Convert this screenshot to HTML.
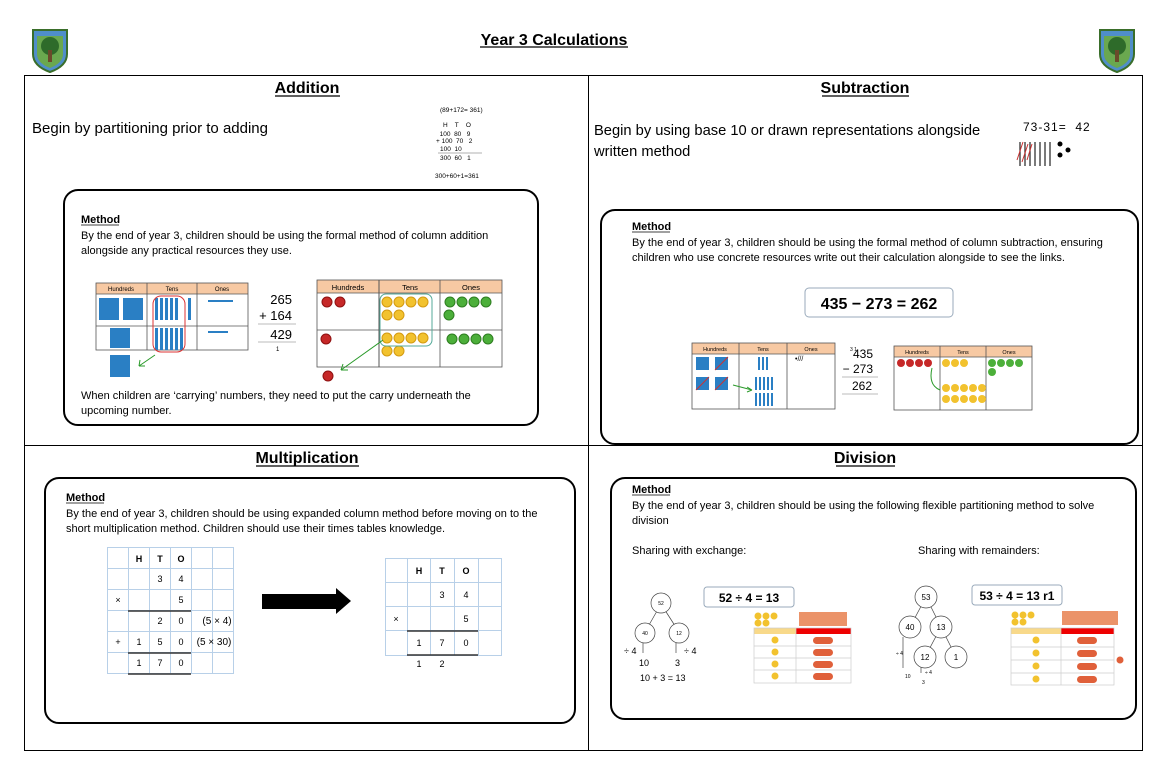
<!DOCTYPE html>
<html><head><meta charset="utf-8"><style>
body{margin:0;background:#fff}
svg{display:block}
text{font-family:"Liberation Sans",sans-serif;fill:#000;white-space:pre}
</style></head><body>
<svg width="1167" height="779" viewBox="0 0 1167 779" xmlns="http://www.w3.org/2000/svg">
<defs>
<g id="logo">
<path d="M0,0 H34 V24 Q34,36 17,42 Q0,36 0,24 Z" fill="#4f8ec9" stroke="#3a6e2a" stroke-width="2"/>
<path d="M4,6 H30 V24 Q30,33 17,38 Q4,33 4,24 Z" fill="#6aa84f"/>
<circle cx="17" cy="16" r="9" fill="#2e6b2a"/>
<rect x="15" y="20" width="4" height="12" fill="#6b4a2b"/>
</g>
<g id="coinY"><circle r="5" fill="#f2c22e" stroke="#d49a10" stroke-width="1"/></g>
<g id="coinG"><circle r="5" fill="#4caf3a" stroke="#2e7d20" stroke-width="1"/></g>
<g id="coinR"><circle r="5" fill="#c62828" stroke="#8e1010" stroke-width="1"/></g>
</defs>

<!-- header -->
<use href="#logo" x="33" y="30"/>
<use href="#logo" x="1100" y="30"/>
<text x="554" y="45" font-size="16" font-weight="bold" text-anchor="middle">Year 3 Calculations</text>
<line x1="480" y1="47" x2="628" y2="47" stroke="#000" stroke-width="1.3"/>

<!-- grid -->
<rect x="24.5" y="75.5" width="1118" height="675" fill="none" stroke="#000" stroke-width="1"/>
<line x1="588.5" y1="75" x2="588.5" y2="750" stroke="#000"/>
<line x1="24" y1="445.5" x2="1142" y2="445.5" stroke="#000"/>

<!-- headings -->
<g font-size="16" font-weight="bold" text-anchor="middle">
<text x="307" y="93">Addition</text>
<text x="865" y="93">Subtraction</text>
<text x="307" y="463">Multiplication</text>
<text x="865" y="463">Division</text>
</g>
<g stroke="#000" stroke-width="1.3">
<line x1="275" y1="96" x2="340" y2="96"/>
<line x1="822" y1="96" x2="909" y2="96"/>
<line x1="256" y1="466" x2="359" y2="466"/>
<line x1="836" y1="466" x2="895" y2="466"/>
</g>

<!-- ADDITION -->
<text x="32" y="133" font-size="15">Begin by partitioning prior to adding</text>
<g font-size="6.5" fill="#666">
<text x="440" y="112" fill="#666">(89+172= 361)</text>
<text x="443" y="127" fill="#666">H    T    O</text>
<text x="436" y="136" fill="#666">  100  80   9</text>
<text x="436" y="143" fill="#666">+ 100  70   2</text>
<text x="440" y="151" fill="#666">100  10</text>
<text x="440" y="160" fill="#666">300  60   1</text>
<text x="435" y="178" fill="#666">300+60+1=361</text>
</g>
<line x1="438" y1="153" x2="482" y2="153" stroke="#666" stroke-width="0.6"/>

<rect x="64" y="190" width="474" height="235" rx="14" fill="none" stroke="#000" stroke-width="2"/>
<text x="81" y="223" font-size="11" font-weight="bold">Method</text>
<line x1="81" y1="225" x2="119" y2="225" stroke="#000" stroke-width="0.8"/>
<text x="81" y="239" font-size="11">By the end of year 3, children should be using the formal method of column addition</text>
<text x="81" y="254" font-size="11">alongside any practical resources they use.</text>

<!-- left table -->
<rect x="96" y="283" width="152" height="11" fill="#f7c9a3"/>
<rect x="96" y="283" width="152" height="67" fill="none" stroke="#555" stroke-width="0.8"/>
<line x1="147" y1="283" x2="147" y2="350" stroke="#555" stroke-width="0.8"/>
<line x1="197" y1="283" x2="197" y2="350" stroke="#555" stroke-width="0.8"/>
<line x1="96" y1="294" x2="248" y2="294" stroke="#555" stroke-width="0.8"/>
<line x1="96" y1="326" x2="248" y2="326" stroke="#555" stroke-width="0.8"/>
<g font-size="6" text-anchor="middle"><text x="121" y="291">Hundreds</text><text x="172" y="291">Tens</text><text x="222" y="291">Ones</text></g>
<g fill="#2a7fc4">
<rect x="99" y="298" width="20" height="22"/><rect x="123" y="298" width="20" height="22"/>
<rect x="110" y="328" width="20" height="20"/><rect x="110" y="355" width="20" height="22"/>
<rect x="155" y="298" width="3" height="22"/><rect x="160" y="298" width="3" height="22"/><rect x="165" y="298" width="3" height="22"/><rect x="170" y="298" width="3" height="22"/><rect x="175" y="298" width="3" height="22"/><rect x="188" y="298" width="3" height="22"/>
<rect x="155" y="328" width="3" height="22"/><rect x="160" y="328" width="3" height="22"/><rect x="165" y="328" width="3" height="22"/><rect x="170" y="328" width="3" height="22"/><rect x="175" y="328" width="3" height="22"/><rect x="180" y="328" width="3" height="22"/>
<rect x="208" y="300" width="25" height="2"/><rect x="208" y="331" width="20" height="2"/>
</g>
<rect x="153" y="296" width="32" height="56" rx="8" fill="none" stroke="#d33" stroke-width="1"/>
<path d="M155,355 L139,366 M139,366 l6,0 M139,366 l1,-6" stroke="#2a9a2a" fill="none"/>
<g font-size="13" fill="#333" text-anchor="end"><text x="292" y="304">265</text><text x="292" y="320">+ 164</text><text x="292" y="339">429</text></g>
<text x="276" y="351" font-size="6" fill="#333">1</text>
<line x1="258" y1="324" x2="296" y2="324" stroke="#bbb"/><line x1="258" y1="342" x2="296" y2="342" stroke="#bbb"/>

<!-- right table -->
<rect x="317" y="280" width="185" height="13" fill="#f7c9a3"/>
<rect x="317" y="280" width="185" height="87" fill="none" stroke="#555" stroke-width="0.8"/>
<line x1="379" y1="280" x2="379" y2="367" stroke="#555" stroke-width="1"/>
<line x1="440" y1="280" x2="440" y2="367" stroke="#555" stroke-width="0.8"/>
<line x1="317" y1="293" x2="502" y2="293" stroke="#555" stroke-width="0.8"/>
<line x1="317" y1="330" x2="502" y2="330" stroke="#555" stroke-width="0.8"/>
<g font-size="7.5" text-anchor="middle"><text x="348" y="290">Hundreds</text><text x="410" y="290">Tens</text><text x="471" y="290">Ones</text></g>
<use href="#coinR" x="327" y="302"/><use href="#coinR" x="340" y="302"/><use href="#coinR" x="326" y="339"/><use href="#coinR" x="328" y="376"/>
<use href="#coinY" x="387" y="302"/><use href="#coinY" x="399" y="302"/><use href="#coinY" x="411" y="302"/><use href="#coinY" x="423" y="302"/>
<use href="#coinY" x="387" y="315"/><use href="#coinY" x="399" y="315"/>
<use href="#coinY" x="387" y="338"/><use href="#coinY" x="399" y="338"/><use href="#coinY" x="411" y="338"/><use href="#coinY" x="423" y="338"/>
<use href="#coinY" x="387" y="351"/><use href="#coinY" x="399" y="351"/>
<rect x="380" y="294" width="52" height="52" rx="6" fill="none" stroke="#5a9" stroke-width="1"/>
<use href="#coinG" x="450" y="302"/><use href="#coinG" x="462" y="302"/><use href="#coinG" x="474" y="302"/><use href="#coinG" x="486" y="302"/><use href="#coinG" x="449" y="315"/>
<use href="#coinG" x="452" y="339"/><use href="#coinG" x="464" y="339"/><use href="#coinG" x="476" y="339"/><use href="#coinG" x="488" y="339"/>
<path d="M383,340 L341,370 M341,370 l7,0 M341,370 l2,-6" stroke="#2a9a2a" fill="none"/>

<text x="81" y="399" font-size="11">When children are ‘carrying’ numbers, they need to put the carry underneath the</text>
<text x="81" y="414" font-size="11">upcoming number.</text>

<!-- SUBTRACTION -->
<text x="594" y="135" font-size="14.7">Begin by using base 10 or drawn representations alongside</text>
<text x="594" y="156" font-size="14.7">written method</text>
<text x="1023" y="131" font-size="12" fill="#333" letter-spacing="1">73-31=  42</text>
<g stroke="#333" stroke-width="1.3">
<line x1="1020" y1="142" x2="1020" y2="166"/><line x1="1025" y1="142" x2="1025" y2="166"/><line x1="1030" y1="142" x2="1030" y2="166"/><line x1="1035" y1="142" x2="1035" y2="166"/><line x1="1040" y1="142" x2="1040" y2="166"/><line x1="1045" y1="142" x2="1045" y2="166"/><line x1="1050" y1="142" x2="1050" y2="166"/>
</g>
<path d="M1017,160 L1023,142 M1022,162 L1028,144 M1027,160 L1032,144" stroke="#c33" stroke-width="1"/>
<circle cx="1060" cy="144" r="2.5" fill="#000"/><circle cx="1068" cy="150" r="2.5" fill="#000"/><circle cx="1060" cy="155" r="2.5" fill="#000"/>

<rect x="601" y="210" width="537" height="234" rx="14" fill="none" stroke="#000" stroke-width="2"/>
<text x="632" y="230" font-size="11" font-weight="bold">Method</text>
<line x1="632" y1="232" x2="670" y2="232" stroke="#000" stroke-width="0.8"/>
<text x="632" y="246" font-size="11">By the end of year 3, children should be using the formal method of column subtraction, ensuring</text>
<text x="632" y="261" font-size="11">children who use concrete resources write out their calculation alongside to see the links.</text>
<rect x="805" y="288" width="148" height="29" rx="4" fill="none" stroke="#9ab" stroke-width="1"/>
<text x="879" y="309" font-size="16" font-weight="bold" text-anchor="middle" fill="#222">435 − 273 = 262</text>

<rect x="692" y="343" width="143" height="11" fill="#f7c9a3"/>
<rect x="692" y="343" width="143" height="66" fill="none" stroke="#555" stroke-width="0.8"/>
<line x1="739" y1="343" x2="739" y2="409" stroke="#555" stroke-width="0.8"/><line x1="787" y1="343" x2="787" y2="409" stroke="#555" stroke-width="0.8"/>
<line x1="692" y1="354" x2="835" y2="354" stroke="#555" stroke-width="0.8"/>
<g font-size="5.5" text-anchor="middle"><text x="715" y="351">Hundreds</text><text x="763" y="351">Tens</text><text x="811" y="351">Ones</text></g>
<g fill="#2a7fc4"><rect x="696" y="357" width="13" height="13"/><rect x="715" y="357" width="13" height="13"/><rect x="696" y="377" width="13" height="13"/><rect x="715" y="377" width="13" height="13"/>
<rect x="758" y="357" width="2" height="13"/><rect x="762" y="357" width="2" height="13"/><rect x="766" y="357" width="2" height="13"/>
<rect x="755" y="377" width="2" height="13"/><rect x="759" y="377" width="2" height="13"/><rect x="763" y="377" width="2" height="13"/><rect x="767" y="377" width="2" height="13"/><rect x="771" y="377" width="2" height="13"/>
<rect x="755" y="393" width="2" height="13"/><rect x="759" y="393" width="2" height="13"/><rect x="763" y="393" width="2" height="13"/><rect x="767" y="393" width="2" height="13"/><rect x="771" y="393" width="2" height="13"/></g>
<path d="M715,370 L728,357 M696,390 L709,377 M715,390 L728,377" stroke="#c33"/>
<path d="M733,385 L752,390 M752,390 l-5,-3 M752,390 l-5,2" stroke="#2a9a2a" fill="none"/>
<text x="795" y="361" font-size="7" fill="#c33">•///</text>
<g font-size="12" fill="#333" text-anchor="end"><text x="873" y="358">435</text><text x="873" y="373">− 273</text><text x="872" y="390">262</text></g>
<text x="850" y="351" font-size="5" fill="#333">3 1</text>
<line x1="842" y1="377" x2="878" y2="377" stroke="#bbb"/><line x1="842" y1="394" x2="878" y2="394" stroke="#bbb"/>

<rect x="894" y="346" width="138" height="11" fill="#f7c9a3"/>
<rect x="894" y="346" width="138" height="64" fill="none" stroke="#555" stroke-width="0.8"/>
<line x1="940" y1="346" x2="940" y2="410" stroke="#555" stroke-width="0.8"/><line x1="986" y1="346" x2="986" y2="410" stroke="#555" stroke-width="0.8"/>
<line x1="894" y1="357" x2="1032" y2="357" stroke="#555" stroke-width="0.8"/>
<g font-size="5.5" text-anchor="middle"><text x="917" y="354">Hundreds</text><text x="963" y="354">Tens</text><text x="1009" y="354">Ones</text></g>
<g>
<circle cx="901" cy="363" r="4" fill="#c62828"/><circle cx="910" cy="363" r="4" fill="#c62828"/><circle cx="919" cy="363" r="4" fill="#c62828"/><circle cx="928" cy="363" r="4" fill="#c62828"/>
<circle cx="946" cy="363" r="4" fill="#f2c22e"/><circle cx="955" cy="363" r="4" fill="#f2c22e"/><circle cx="964" cy="363" r="4" fill="#f2c22e"/>
<circle cx="946" cy="388" r="4" fill="#f2c22e"/><circle cx="955" cy="388" r="4" fill="#f2c22e"/><circle cx="964" cy="388" r="4" fill="#f2c22e"/><circle cx="973" cy="388" r="4" fill="#f2c22e"/><circle cx="982" cy="388" r="4" fill="#f2c22e"/>
<circle cx="946" cy="399" r="4" fill="#f2c22e"/><circle cx="955" cy="399" r="4" fill="#f2c22e"/><circle cx="964" cy="399" r="4" fill="#f2c22e"/><circle cx="973" cy="399" r="4" fill="#f2c22e"/><circle cx="982" cy="399" r="4" fill="#f2c22e"/>
<circle cx="992" cy="363" r="4" fill="#4caf3a"/><circle cx="1001" cy="363" r="4" fill="#4caf3a"/><circle cx="1010" cy="363" r="4" fill="#4caf3a"/><circle cx="1019" cy="363" r="4" fill="#4caf3a"/><circle cx="992" cy="372" r="4" fill="#4caf3a"/>
</g>
<path d="M932,368 Q928,385 940,390" stroke="#2a9a2a" fill="none"/>

<!-- MULTIPLICATION -->
<rect x="45" y="478" width="530" height="245" rx="14" fill="none" stroke="#000" stroke-width="2"/>
<text x="66" y="501" font-size="11" font-weight="bold">Method</text>
<line x1="66" y1="503" x2="104" y2="503" stroke="#000" stroke-width="0.8"/>
<text x="66" y="517" font-size="11">By the end of year 3, children should be using expanded column method before moving on to the</text>
<text x="66" y="532" font-size="11">short multiplication method. Children should use their times tables knowledge.</text>

<g stroke="#b8d0e8" stroke-width="1" fill="none">
<rect x="107.5" y="547.5" width="126" height="126"/>
<line x1="128.5" y1="547" x2="128.5" y2="674"/><line x1="149.5" y1="547" x2="149.5" y2="674"/><line x1="170.5" y1="547" x2="170.5" y2="674"/><line x1="191.5" y1="547" x2="191.5" y2="674"/><line x1="212.5" y1="547" x2="212.5" y2="674"/>
<line x1="107" y1="568.5" x2="234" y2="568.5"/><line x1="107" y1="589.5" x2="234" y2="589.5"/><line x1="107" y1="610.5" x2="234" y2="610.5"/><line x1="107" y1="631.5" x2="234" y2="631.5"/><line x1="107" y1="652.5" x2="234" y2="652.5"/>
</g>
<g stroke="#333" stroke-width="1.5"><line x1="128" y1="611" x2="191" y2="611"/><line x1="128" y1="653" x2="191" y2="653"/><line x1="128" y1="674" x2="191" y2="674"/></g>
<g font-size="9" text-anchor="middle" fill="#333">
<text x="139" y="562" font-weight="bold">H</text><text x="160" y="562" font-weight="bold">T</text><text x="181" y="562" font-weight="bold">O</text>
<text x="160" y="582">3</text><text x="181" y="582">4</text>
<text x="118" y="603">×</text><text x="181" y="603">5</text>
<text x="160" y="624">2</text><text x="181" y="624">0</text>
<text x="118" y="645">+</text><text x="139" y="645">1</text><text x="160" y="645">5</text><text x="181" y="645">0</text>
<text x="139" y="666">1</text><text x="160" y="666">7</text><text x="181" y="666">0</text>
<text x="217" y="624" font-size="10">(5 × 4)</text><text x="214" y="645" font-size="10">(5 × 30)</text>
</g>
<rect x="262" y="594" width="75" height="15" fill="#000"/>
<polygon points="336,588 351,601 336,614" fill="#000"/>

<g stroke="#b8d0e8" stroke-width="1" fill="none">
<rect x="385.5" y="558.5" width="116" height="97"/>
<line x1="407.5" y1="558" x2="407.5" y2="656"/><line x1="430.5" y1="558" x2="430.5" y2="656"/><line x1="454.5" y1="558" x2="454.5" y2="656"/><line x1="478.5" y1="558" x2="478.5" y2="656"/>
<line x1="385" y1="582.5" x2="502" y2="582.5"/><line x1="385" y1="606.5" x2="502" y2="606.5"/><line x1="385" y1="630.5" x2="502" y2="630.5"/>
</g>
<g stroke="#333" stroke-width="1.5"><line x1="407" y1="631" x2="478" y2="631"/><line x1="407" y1="655" x2="478" y2="655"/></g>
<g font-size="9" text-anchor="middle" fill="#333">
<text x="419" y="574" font-weight="bold">H</text><text x="442" y="574" font-weight="bold">T</text><text x="466" y="574" font-weight="bold">O</text>
<text x="442" y="598">3</text><text x="466" y="598">4</text>
<text x="396" y="622">×</text><text x="466" y="622">5</text>
<text x="419" y="646">1</text><text x="442" y="646">7</text><text x="466" y="646">0</text>
<text x="419" y="667">1</text><text x="442" y="667">2</text>
</g>

<!-- DIVISION -->
<rect x="611" y="478" width="525" height="241" rx="14" fill="none" stroke="#000" stroke-width="2"/>
<text x="632" y="493" font-size="11" font-weight="bold">Method</text>
<line x1="632" y1="495" x2="670" y2="495" stroke="#000" stroke-width="0.8"/>
<text x="632" y="509" font-size="11">By the end of year 3, children should be using the following flexible partitioning method to solve</text>
<text x="632" y="524" font-size="11">division</text>
<text x="632" y="554" font-size="11">Sharing with exchange:</text>
<text x="918" y="554" font-size="11">Sharing with remainders:</text>

<!-- tree 1 -->
<g stroke="#444" stroke-width="0.7" fill="#fff">
<line x1="661" y1="604" x2="645" y2="632"/><line x1="661" y1="604" x2="679" y2="632"/>
<circle cx="661" cy="603" r="10"/><circle cx="645" cy="633" r="10"/><circle cx="679" cy="633" r="10"/>
<line x1="643" y1="643" x2="643" y2="653"/><line x1="676" y1="643" x2="676" y2="653"/>
</g>
<g font-size="5" text-anchor="middle" fill="#444"><text x="661" y="605">52</text><text x="645" y="635">40</text><text x="679" y="635">12</text></g>
<g font-size="9" fill="#333"><text x="624" y="654">÷ 4</text><text x="684" y="654">÷ 4</text><text x="639" y="666">10</text><text x="675" y="666">3</text><text x="640" y="681">10 + 3 = 13</text></g>
<rect x="704" y="587" width="90" height="20" rx="3" fill="none" stroke="#9ab"/>
<text x="749" y="602" font-size="12" font-weight="bold" text-anchor="middle" fill="#222">52 ÷ 4 = 13</text>
<g>
<circle cx="758" cy="616" r="3.5" fill="#f2c22e"/><circle cx="766" cy="616" r="3.5" fill="#f2c22e"/><circle cx="774" cy="616" r="3.5" fill="#f2c22e"/><circle cx="758" cy="623" r="3.5" fill="#f2c22e"/><circle cx="766" cy="623" r="3.5" fill="#f2c22e"/>
<rect x="799" y="612" width="48" height="14" fill="#e8804f" opacity="0.85"/>
<rect x="754" y="628" width="42" height="6" fill="#f8d98a"/><rect x="796" y="628" width="55" height="6" fill="#e00"/>
<g stroke="#ccc" stroke-width="0.7" fill="none"><rect x="754" y="628" width="97" height="55"/><line x1="796" y1="628" x2="796" y2="683"/><line x1="754" y1="646" x2="851" y2="646"/><line x1="754" y1="658" x2="851" y2="658"/><line x1="754" y1="670" x2="851" y2="670"/></g>
<circle cx="775" cy="640" r="3.5" fill="#f2c22e"/><circle cx="775" cy="652" r="3.5" fill="#f2c22e"/><circle cx="775" cy="664" r="3.5" fill="#f2c22e"/><circle cx="775" cy="676" r="3.5" fill="#f2c22e"/>
<rect x="813" y="637" width="20" height="7" rx="3.5" fill="#e0603a"/><rect x="813" y="649" width="20" height="7" rx="3.5" fill="#e0603a"/><rect x="813" y="661" width="20" height="7" rx="3.5" fill="#e0603a"/><rect x="813" y="673" width="20" height="7" rx="3.5" fill="#e0603a"/>
</g>

<!-- tree 2 -->
<g stroke="#444" stroke-width="0.7" fill="#fff">
<line x1="926" y1="597" x2="910" y2="627"/><line x1="926" y1="597" x2="941" y2="627"/><line x1="941" y1="627" x2="925" y2="657"/><line x1="941" y1="627" x2="956" y2="657"/>
<line x1="903" y1="637" x2="903" y2="668"/><line x1="921" y1="667" x2="921" y2="673"/>
<circle cx="926" cy="597" r="11"/><circle cx="910" cy="627" r="11"/><circle cx="941" cy="627" r="11"/><circle cx="925" cy="657" r="11"/><circle cx="956" cy="657" r="11"/>
</g>
<g font-size="8" text-anchor="middle" fill="#444"><text x="926" y="600">53</text><text x="910" y="630">40</text><text x="941" y="630">13</text><text x="925" y="660">12</text><text x="956" y="660">1</text></g>
<g font-size="5" fill="#444"><text x="896" y="655">÷ 4</text><text x="905" y="678">10</text><text x="922" y="684">3</text><text x="925" y="674">÷ 4</text></g>
<rect x="972" y="585" width="90" height="20" rx="3" fill="none" stroke="#9ab"/>
<text x="1017" y="600" font-size="12" font-weight="bold" text-anchor="middle" fill="#222">53 ÷ 4 = 13 r1</text>
<g>
<circle cx="1015" cy="615" r="3.5" fill="#f2c22e"/><circle cx="1023" cy="615" r="3.5" fill="#f2c22e"/><circle cx="1031" cy="615" r="3.5" fill="#f2c22e"/><circle cx="1015" cy="622" r="3.5" fill="#f2c22e"/><circle cx="1023" cy="622" r="3.5" fill="#f2c22e"/>
<rect x="1062" y="611" width="56" height="14" fill="#e8804f" opacity="0.85"/>
<rect x="1011" y="628" width="50" height="6" fill="#f8d98a"/><rect x="1061" y="628" width="53" height="6" fill="#e00"/>
<g stroke="#ccc" stroke-width="0.7" fill="none"><rect x="1011" y="628" width="103" height="57"/><line x1="1061" y1="628" x2="1061" y2="685"/><line x1="1011" y1="647" x2="1114" y2="647"/><line x1="1011" y1="660" x2="1114" y2="660"/><line x1="1011" y1="673" x2="1114" y2="673"/></g>
<circle cx="1036" cy="640" r="3.5" fill="#f2c22e"/><circle cx="1036" cy="653" r="3.5" fill="#f2c22e"/><circle cx="1036" cy="666" r="3.5" fill="#f2c22e"/><circle cx="1036" cy="679" r="3.5" fill="#f2c22e"/>
<rect x="1077" y="637" width="20" height="7" rx="3.5" fill="#e0603a"/><rect x="1077" y="650" width="20" height="7" rx="3.5" fill="#e0603a"/><rect x="1077" y="663" width="20" height="7" rx="3.5" fill="#e0603a"/><rect x="1077" y="676" width="20" height="7" rx="3.5" fill="#e0603a"/>
<circle cx="1120" cy="660" r="3.5" fill="#e0603a"/>
</g>
</svg>
</body></html>
